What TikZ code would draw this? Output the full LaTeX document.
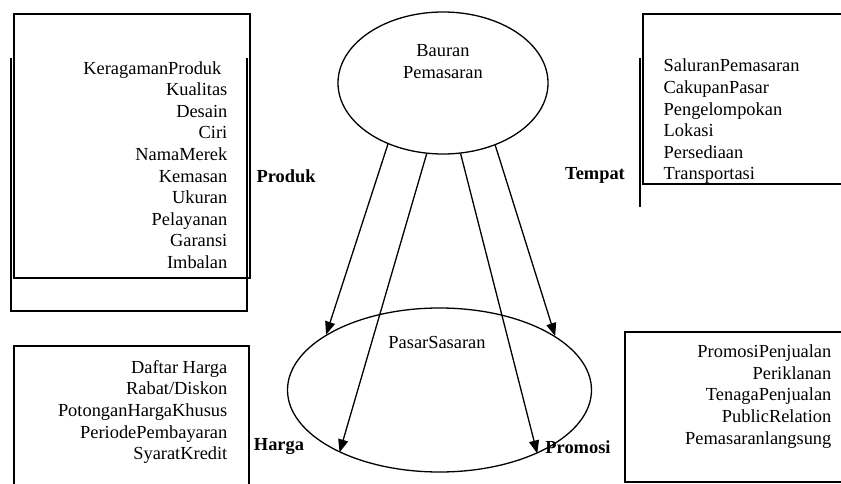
\documentclass[tikz,border=0pt]{standalone}
\usepackage{fontspec}
\setmainfont{Liberation Serif}
\usetikzlibrary{arrows.meta,shapes.geometric}

\begin{document}
\begin{tikzpicture}[x=1pt,y=-1pt,->,>={Triangle[length=13pt,width=10pt]},line width=1.3pt,
                    every node/.style={font=\fontsize{18.4}{21.6}\selectfont,inner sep=0pt},
                    mix/.style={draw,ellipse,inner sep=0pt},
                    aspek/.style={font=\fontsize{18.4}{21.6}\selectfont\bfseries},
                    daftar/.style={align=right},
                    daftarkiri/.style={align=left}]
   \useasboundingbox (0,0) rectangle (841,484);
   \clip (0,0) rectangle (841,484);

   \draw[-] (14,14) rectangle (250,278);
   \draw[-] (11,58) -- (11,311) -- (247,311) -- (247,58);
   \draw[-] (643,14) rectangle (870,184);
   \draw[-,line width=2.2pt] (640,58) -- (640,207);
   \draw[-] (14,346) rectangle (249,510);
   \draw[-] (625,332) rectangle (848,482);

   \node[mix,minimum width=210,minimum height=142] (bauran) at (443,83) {};
   \node[align=center] (bauranteks) at (443,61.5) {Bauran\\Pemasaran};
   \node[mix,minimum width=304,minimum height=164] (pasar) at (439.5,390) {};
   \node (pasarteks) at (437,342) {PasarSasaran};

   \node[daftar,anchor=east] (produkisi) at (228,165)
      {KeragamanProduk\hspace*{6pt}\\Kualitas\\Desain\\Ciri\\NamaMerek\hspace*{6pt}\\
       Kemasan\\Ukuran\\Pelayanan\\Garansi\\Imbalan};
   \node[daftarkiri,anchor=west] (tempatisi) at (663,121.5)
      {SaluranPemasaran\\CakupanPasar\\Pengelompokan\\Lokasi\\Persediaan\\Transportasi};
   \node[daftar,anchor=east] (hargaisi) at (228,412)
      {Daftar Harga\\Rabat/Diskon\\PotonganHargaKhusus\\PeriodePembayaran\\SyaratKredit};
   \node[daftar,anchor=east] (promosiisi) at (832,396.5)
      {PromosiPenjualan\\Periklanan\\TenagaPenjualan\\PublicRelation\\Pemasaranlangsung};

   \node[aspek] (produk) at (286,176) {Produk};
   \node[aspek] (tempat) at (595,175) {Tempat};
   \node[aspek] (harga) at (279,447) {Harga};
   \node[aspek] (promosi) at (578,447) {Promosi};

   \path[->]
   (bauran.228) edge (pasar.154)
   (bauran.257) edge (pasar.212)
   (bauran.284) edge (pasar.327)
   (bauran.310) edge (pasar.25);
\end{tikzpicture}
\end{document}
